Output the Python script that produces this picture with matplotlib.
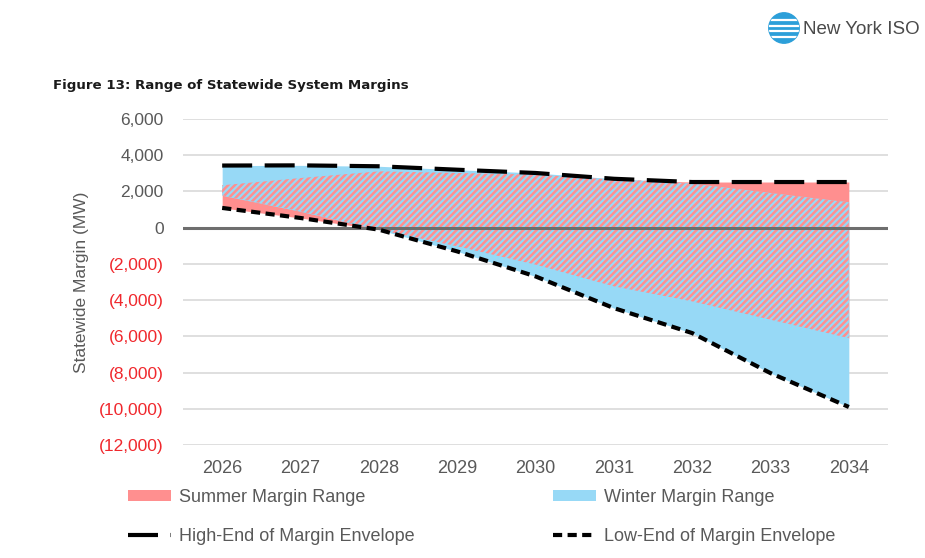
import numpy as np
import matplotlib
matplotlib.use('Agg')
import matplotlib.pyplot as plt
from matplotlib.patches import Patch, Circle
from matplotlib.lines import Line2D

# Datos (MW)
years = [2026, 2027, 2028, 2029, 2030, 2031, 2032, 2033, 2034]
summer_high = [2340, 2740, 3110, 3020, 2930, 2650, 2520, 2520, 2520]
summer_low = [1090, 535, -110, -1030, -2040, -3240, -4070, -5080, -6100]
winter_high = [3430, 3440, 3390, 3200, 3020, 2700, 2430, 1915, 1400]
winter_low = [1785, 900, -110, -1310, -2690, -4440, -5820, -8030, -9900]
high_end = [3430, 3440, 3390, 3200, 3020, 2700, 2520, 2520, 2520]
low_end = [1090, 535, -110, -1310, -2690, -4440, -5820, -8030, -9900]
y_ticks = [6000, 4000, 2000, 0, -2000, -4000, -6000, -8000, -10000, -12000]

PINK = '#FF8F8F'
BLUE = '#97D9F6'
GRAY_TXT = '#595959'
RED_TXT = '#F0282D'
HIGH_DASH = (7.2, 3.0)
LOW_DASH = (2.2, 1.3)

plt.rcParams['font.family'] = ['Liberation Sans', 'DejaVu Sans']
plt.rcParams['hatch.linewidth'] = 1.8

fig = plt.figure(figsize=(9.25, 5.58), dpi=100)
ax = fig.add_axes([183 / 925, 1 - 445 / 558, (888 - 183) / 925, (445 - 119) / 558])

# areas: rango de verano, rango de invierno y la zona comun rayada
ax.fill_between(years, summer_low, summer_high, color=PINK, lw=0, zorder=2)
ax.fill_between(years, winter_low, winter_high, color=BLUE, lw=0, zorder=2)
xx = np.linspace(years[0], years[-1], 400)
ov_lo = np.maximum(np.interp(xx, years, summer_low), np.interp(xx, years, winter_low))
ov_hi = np.minimum(np.interp(xx, years, summer_high), np.interp(xx, years, winter_high))
ax.fill_between(xx, ov_lo, ov_hi, where=ov_hi > ov_lo, facecolor=BLUE,
                edgecolor=PINK, hatch='/////', lw=0, zorder=3)

# lineas de grid y linea de cero
for t in y_ticks:
    if t != 0:
        ax.axhline(t, color='#D9D9D9', lw=1.2, zorder=1)
ax.axhline(0, color='#6E6E6E', lw=2.2, zorder=4)

# envolventes
ax.plot(years, high_end, color='black', lw=3, dashes=HIGH_DASH, zorder=5)
ax.plot(years, low_end, color='black', lw=3, dashes=LOW_DASH, zorder=5)

ax.set_xlim(2025.5, 2034.5)
ax.set_ylim(-12000, 6000)
ax.set_xticks(years)
ax.set_xticklabels([str(y) for y in years], fontsize=13, color=GRAY_TXT)
ax.set_yticks(y_ticks)
ylabels = []
for t in y_ticks:
    if t < 0:
        ylabels.append('({:,})'.format(-t))
    else:
        ylabels.append('{:,}'.format(t))
ax.set_yticklabels(ylabels, fontsize=12.5)
for lab, t in zip(ax.get_yticklabels(), y_ticks):
    lab.set_color(RED_TXT if t < 0 else GRAY_TXT)
ax.tick_params(axis='both', length=0)
ax.tick_params(axis='y', pad=14)
ax.tick_params(axis='x', pad=11)
for s in ax.spines.values():
    s.set_visible(False)
ax.set_ylabel('Statewide Margin (MW)', fontsize=12.5, color=GRAY_TXT)
ax.yaxis.set_label_coords(-0.134, 0.5)

# titulo
fig.text(53 / 925, 1 - 86 / 558, 'Figure 13: Range of Statewide System Margins',
         family='DejaVu Sans', fontsize=9.6, fontweight='bold', va='center',
         ha='left', color='#1a1a1a')

# leyenda (dos columnas)
h_summer = Patch(facecolor=PINK, edgecolor='none')
h_winter = Patch(facecolor=BLUE, edgecolor='none')
h_high = Line2D([], [], color='black', lw=3, dashes=HIGH_DASH)
h_low = Line2D([], [], color='black', lw=3, dashes=LOW_DASH)
leg_kw = dict(frameon=False, loc='upper left', prop={'size': 13},
              handlelength=2.4, handleheight=0.6, handletextpad=0.4, labelspacing=1.2,
              borderaxespad=0, borderpad=0, labelcolor=GRAY_TXT)
fig.legend([h_summer, h_high], ['Summer Margin Range', 'High-End of Margin Envelope'],
           bbox_to_anchor=(128 / 925, 1 - 489 / 558), **leg_kw)
fig.legend([h_winter, h_low], ['Winter Margin Range', 'Low-End of Margin Envelope'],
           bbox_to_anchor=(553 / 925, 1 - 489 / 558), **leg_kw)

# logo New York ISO
lax = fig.add_axes([768 / 925, 1 - 44 / 558, 32 / 925, 32 / 558])
lax.set_xlim(-1, 1)
lax.set_ylim(-1, 1)
lax.set_aspect('equal')
lax.axis('off')
circ = Circle((0, 0), 0.95, color='#2C9FD9')
lax.add_patch(circ)
for yy in [-0.55, -0.2, 0.15, 0.5]:
    ln, = lax.plot([-1, 1], [yy, yy], color='white', lw=1.6)
    ln.set_clip_path(circ)
fig.text(803 / 925, 1 - 29 / 558, 'New York ISO', fontsize=13.5,
         color='#4A4A4A', va='center', ha='left')

fig.savefig('out.png', dpi=100)
